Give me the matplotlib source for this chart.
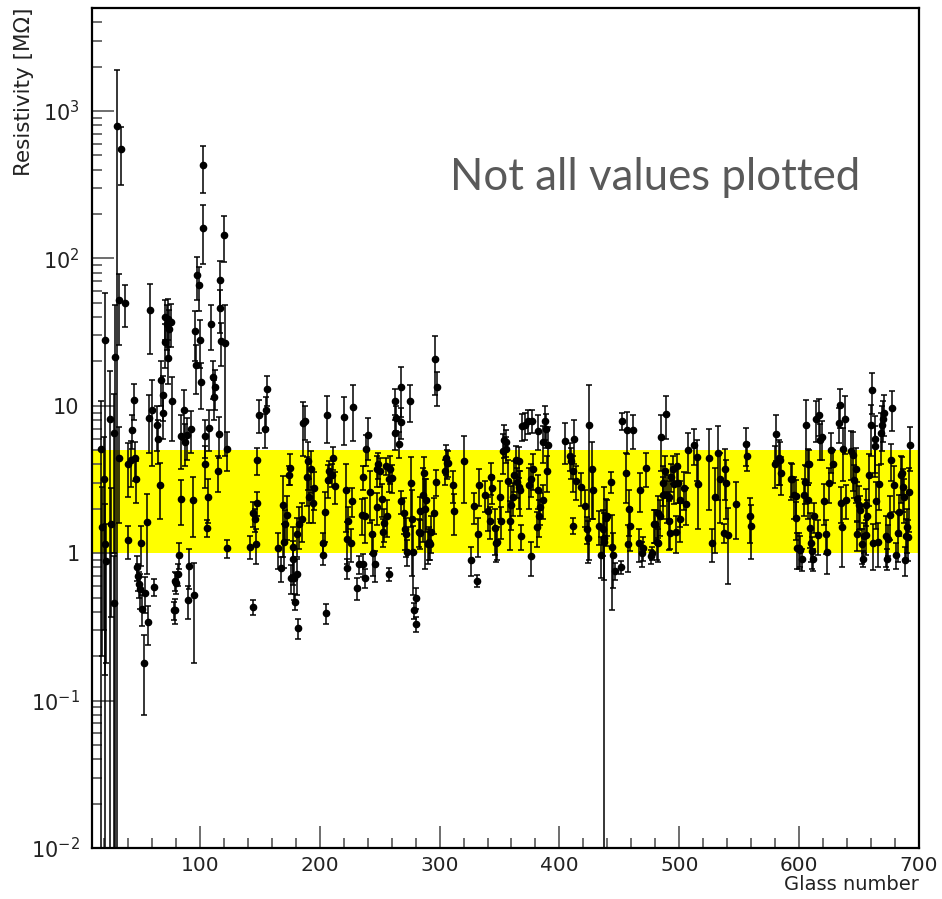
import numpy as np
import matplotlib.pyplot as plt
from matplotlib.ticker import FixedLocator, MultipleLocator, NullFormatter

# glass number, resistivity [MOhm], error, by region
glass_1 = [17.5, 18.0, 20.0, 20.8, 20.8, 21.5, 25.0, 26.0, 28.0, 28.0, 29.0, 31.0, 32.5, 32.5, 34.0,
           37.5, 40.0, 40.0, 42.5, 43.0, 45.0, 46.0, 47.0, 47.5, 48.0, 49.0, 50.0, 51.0, 51.7, 53.0,
           54.0, 56.0, 56.7, 57.5, 58.5, 60.0, 62.0, 64.0, 65.0, 67.0, 67.5, 69.0, 69.5, 71.0, 71.0,
           72.5, 73.0, 73.5, 74.0, 76.0, 77.0, 78.0, 79.0, 79.5, 80.0, 81.7, 82.5, 84.0, 84.0, 86.7,
           87.5, 89.0, 90.0, 91.0, 92.5, 94.0, 95.0, 96.0, 97.0, 97.5, 99.0, 100.0, 101.0, 102.5, 103.0,
           104.0, 104.5, 106.0, 107.0, 108.0, 109.0, 111.0, 111.5, 112.5, 115.0, 116.0, 117.0, 117.0, 118.0,
           120.0, 121.0, 122.5, 122.5]
res_1 = [5.1, 1.5, 3.2, 28, 1.15, 0.88, 8.2, 1.57, 6.5, 0.46, 21.5, 790, 52, 4.4, 550,
         50, 4.0, 1.22, 4.3, 6.9, 11, 4.4, 3.2, 0.80, 0.70, 0.62, 0.57, 1.17, 0.42, 0.18,
         0.54, 1.62, 0.34, 8.3, 44.6, 9.4, 0.59, 7.4, 6.0, 2.9, 15, 11.9, 9.0, 40, 27,
         36, 21, 39, 33, 37, 10.8, 0.41, 0.65, 0.41, 0.63, 0.72, 0.98, 6.2, 2.35, 9.4,
         5.7, 6.3, 0.48, 0.82, 7.0, 2.28, 0.52, 32, 19, 77, 66, 28, 14.5, 430, 162,
         4.05, 6.2, 1.48, 2.4, 7.1, 36, 15.7, 11.5, 13.4, 3.6, 6.4, 71, 46, 27.5,
         145, 26.6, 5.1, 1.08]
err_1 = [5.7, 1.3, 2.9, 30, 1.0, 0.7, 9.0, 1.2, 5.5, 0.5, 27, 1110, 26, 2.8, 235,
         16, 1.6, 0.3, 1.5, 1.8, 3, 1.3, 1.0, 0.15, 0.15, 0.12, 0.15, 0.35, 0.1, 0.1,
         0.15, 0.9, 0.1, 3.5, 22, 5.5, 0.08, 2.5, 2.0, 1.2, 5, 4, 3, 12, 9,
         12, 7, 14, 12, 12, 5, 0.06, 0.1, 0.08, 0.1, 0.12, 0.2, 2.5, 0.8, 3.5,
         1.8, 2.0, 0.12, 0.25, 2.2, 1.0, 0.34, 12, 7, 25, 22, 10, 5, 150, 70,
         1.3, 1.8, 0.2, 0.8, 2.2, 12, 4.5, 3.5, 4, 1.0, 2, 25, 15, 9,
         50, 22, 1.5, 0.15]

glass_2 = [144, 142, 144, 146, 147, 147.5, 148, 149, 154, 155, 156, 165, 168, 169, 170,
           171, 172.5, 174, 175, 176, 177.5, 178, 178.5, 179, 181, 182, 181, 183, 185, 186,
           188, 189, 190, 191, 192.5, 194, 195, 202.5, 203, 204, 205, 206, 207, 208, 210,
           211, 212.5, 220, 222, 222.5, 223, 224, 226, 226.7, 227.5, 231, 232.5, 235, 236, 236.5,
           237.5, 238, 239, 240, 241.7, 244, 244.5, 246, 247.5, 248]
res_2 = [0.43, 1.11, 1.86, 1.7, 1.15, 2.2, 4.3, 8.7, 7.0, 9.3, 13, 1.08, 0.79, 2.14, 1.19,
         1.57, 1.83, 3.4, 3.8, 0.68, 1.11, 0.91, 0.68, 0.47, 0.72, 0.31, 1.34, 1.57, 1.7, 7.6,
         7.9, 3.3, 4.2, 2.4, 3.75, 2.2, 2.75, 1.17, 0.98, 1.89, 0.39, 8.6, 3.16, 3.6, 3.4,
         4.45, 2.85, 8.4, 2.7, 1.24, 0.79, 1.65, 1.17, 2.25, 9.8, 0.58, 0.84, 1.83, 3.3, 0.84,
         0.68, 1.78, 5.1, 6.3, 2.6, 1.34, 1.0, 0.84, 2.05, 3.7]
err_2 = [0.05, 0.2, 0.35, 0.3, 0.3, 0.4, 0.9, 2.2, 1.8, 2.2, 3, 0.3, 0.15, 1.2, 0.4,
         0.4, 0.6, 0.5, 0.9, 0.15, 0.4, 0.3, 0.2, 0.06, 0.2, 0.05, 0.4, 0.5, 0.5, 3,
         2, 1.2, 1.5, 0.8, 1.2, 0.6, 0.8, 0.2, 0.15, 0.7, 0.06, 3, 0.8, 0.6, 0.6,
         0.8, 0.7, 3, 1.3, 0.4, 0.12, 0.4, 0.3, 0.5, 4, 0.1, 0.12, 0.5, 0.6, 0.15,
         0.1, 0.6, 1.2, 2, 1.0, 0.35, 0.3, 0.2, 0.5, 0.9]

glass_3 = [248.5, 250, 251.7, 252.5, 254, 255, 256, 257.5, 258, 259, 260.5, 262.5, 263, 264, 266,
           267.5, 268, 267.5, 270, 271, 272, 273, 275, 276, 276.7, 278, 278.5, 280, 280.5, 283,
           283.5, 284, 286, 286.7, 287.5, 289, 290, 291, 292, 293, 295, 296, 297.5, 296.7, 305,
           306, 304.5, 307, 311, 312, 320, 326, 329, 332, 331, 333, 338, 340, 341.7, 342.5,
           344, 346, 347, 348, 350, 351, 353, 354, 355, 355.5, 357.5, 359, 360, 361, 362.5, 364]
res_3 = [4.0, 3.6, 2.35, 1.4, 1.6, 3.9, 1.78, 3.2, 0.72, 3.75, 3.25, 6.5, 10.8, 8.3, 5.5,
         7.8, 13.4, 2.25, 1.86, 1.45, 1.34, 1.02, 10.8, 3.0, 1.7, 1.02, 0.41, 0.5, 0.33, 1.4,
         1.37, 1.92, 2.5, 3.5, 1.98, 2.3, 1.15, 1.2, 1.15, 1.4, 1.86, 20.8, 13.4, 3.06, 4.4,
         4.1, 3.6, 4.1, 2.9, 1.92, 4.2, 0.9, 2.08, 1.34, 0.65, 2.9, 2.5, 1.92, 1.65, 3.3,
         2.75, 1.48, 1.17, 1.2, 2.4, 1.65, 4.95, 5.9, 5.7, 5.1, 3.1, 1.65, 2.14, 2.4, 3.4, 4.3]
err_3 = [0.8, 0.8, 0.6, 0.3, 0.4, 0.5, 0.5, 0.6, 0.07, 0.8, 0.7, 1.5, 2.2, 1.6, 1.1,
         1.8, 5, 0.4, 0.5, 0.4, 0.4, 0.2, 3, 1.5, 1.0, 0.5, 0.05, 0.08, 0.04, 0.3,
         0.3, 0.5, 1.3, 1.0, 1.2, 0.9, 0.3, 0.3, 0.25, 0.4, 0.5, 9, 3.5, 0.6, 1.0,
         0.9, 0.7, 0.8, 0.7, 0.6, 2.0, 0.2, 0.5, 0.4, 0.06, 0.8, 0.6, 0.5, 0.4, 0.8,
         0.6, 0.5, 0.3, 0.3, 0.7, 0.4, 1.5, 1.5, 1.2, 1.0, 1.2, 0.6, 0.7, 0.6, 0.8, 1.0]

glass_4 = [365, 366, 366.5, 367.5, 368, 369, 371, 374, 377, 375, 376.5, 378, 376, 381, 382,
           382.5, 383, 384, 386, 386.7, 388, 389, 390, 390.5, 405, 409, 410, 411, 411.5, 412.5,
           414, 418, 421.7, 423, 424, 425, 427.5, 428, 433, 435, 436, 437, 437.5, 439, 440,
           443, 444, 445, 446, 451, 452.5, 456, 455.5, 457.5, 458, 459, 461, 466, 467.5, 469,
           470, 472, 476, 477, 479]
res_4 = [3.06, 2.8, 4.25, 2.7, 1.3, 7.3, 7.4, 7.9, 7.9, 2.9, 3.2, 3.7, 0.95, 1.5, 2.7,
         6.8, 1.78, 2.05, 2.3, 5.7, 7.9, 7.0, 3.6, 5.4, 5.8, 4.6, 4.2, 1.54, 3.6, 6.0,
         3.1, 2.8, 2.1, 1.45, 1.26, 7.4, 3.7, 2.7, 1.54, 0.98, 1.45, 1.26, 1.2, 1.72, 1.8,
         3.06, 1.11, 0.98, 0.76, 0.8, 7.9, 6.9, 3.5, 1.15, 2.0, 1.54, 6.9, 1.17, 2.7, 1.0,
         1.09, 3.8, 0.95, 1.0, 1.57]
err_4 = [0.7, 0.8, 1.0, 0.9, 0.25, 1.5, 1.5, 1.5, 1.4, 0.9, 0.8, 1.0, 0.25, 0.4, 0.7,
         1.8, 0.5, 0.5, 0.6, 1.6, 2, 1.8, 1.0, 1.8, 1.8, 1.0, 1.0, 0.2, 1.0, 2.0,
         0.8, 0.7, 0.6, 0.3, 0.4, 6.5, 2.0, 1.0, 0.4, 0.3, 0.5, 0.6, 1.6, 0.6, 0.5,
         0.5, 0.7, 0.4, 0.1, 0.08, 1.0, 2.2, 1.3, 0.4, 0.7, 0.5, 1.8, 0.3, 0.8, 0.2,
         0.2, 1.0, 0.1, 0.1, 0.4]

glass_5 = [480, 481, 482, 482.5, 484, 485, 486, 486.5, 488, 489, 490, 491, 491.7, 492.5, 493.5,
           495, 496, 497.5, 498, 499, 501, 500.5, 504, 506, 507, 512, 515, 516, 525, 530,
           527.5, 532.5, 534, 537, 538, 539, 541, 547.5, 556, 556.5, 559, 560, 580, 581, 583,
           584, 584.5, 593]
res_5 = [1.57, 1.2, 1.17, 1.86, 1.8, 6.1, 2.5, 3.0, 3.6, 8.8, 2.5, 2.4, 1.65, 1.37, 3.3,
         3.75, 2.95, 1.4, 3.9, 3.0, 2.3, 1.7, 2.75, 2.15, 5.0, 5.45, 4.5, 2.97, 4.45, 2.4,
         1.17, 4.8, 3.2, 1.37, 3.7, 3.0, 1.32, 2.15, 5.5, 4.6, 1.78, 1.52, 4.05, 6.4, 4.4,
         4.3, 3.5, 3.2]
err_5 = [0.4, 0.3, 0.3, 0.6, 0.5, 2.5, 0.8, 0.9, 1.0, 2.8, 0.9, 0.7, 0.6, 0.3, 0.7,
         0.8, 0.8, 0.4, 0.8, 0.8, 0.8, 0.5, 0.8, 0.6, 1.5, 1.5, 1.4, 1.5, 2.5, 1.4,
         0.3, 2.5, 1.6, 0.2, 1.4, 1.3, 0.7, 0.9, 1.6, 1.0, 0.6, 0.6, 1.3, 2.2, 1.5,
         1.4, 1.0, 0.9]

glass_6 = [594, 596, 597, 597.5, 598, 600, 601, 602.5, 604, 605, 606, 607, 607.5, 608, 609,
           610, 611, 611.5, 612.5, 614, 616, 616.5, 617.5, 619, 621, 622.5, 623, 625, 626.7, 628,
           633, 634, 635, 636, 636.5, 638, 639, 643, 645, 645.5, 647.5, 648.5, 648.5, 650, 651,
           652.5, 653, 654, 655.5, 656, 657, 658, 660, 661, 662, 663, 663.5, 664, 666, 667,
           668, 669, 670, 671, 672.5, 673, 674, 676, 677, 677.5, 679, 681, 682.5, 683.5, 685,
           686, 687, 687.5, 688, 689, 690, 691, 692, 692.5]
res_6 = [3.2, 2.5, 2.45, 1.72, 1.08, 1.08, 1.05, 0.91, 2.5, 3.06, 7.4, 4.0, 2.3, 4.0, 1.48,
         1.17, 1.03, 0.91, 1.78, 8.2, 1.32, 8.7, 5.9, 6.1, 2.25, 1.34, 1.02, 3.0, 5.0, 4.0,
         7.6, 10.1, 2.2, 1.5, 5.1, 8.2, 2.3, 4.95, 4.65, 3.16, 3.7, 2.35, 1.34, 2.14, 1.95,
         1.15, 0.92, 1.3, 1.32, 2.14, 1.8, 3.4, 7.4, 12.8, 1.17, 6.0, 5.3, 2.25, 1.2, 2.97,
         6.5, 7.4, 8.2, 9.0, 1.3, 0.92, 1.25, 1.83, 4.3, 9.7, 2.9, 0.98, 1.37, 1.9, 3.4,
         3.5, 2.8, 2.4, 0.9, 1.3, 1.5, 1.28, 2.6, 5.4]
err_6 = [0.8, 0.8, 0.7, 0.5, 0.3, 0.3, 0.25, 0.15, 0.7, 0.9, 3.5, 1.1, 0.6, 1.0, 0.4,
         0.3, 0.25, 0.15, 0.4, 2.5, 0.35, 2.5, 1.6, 1.8, 0.7, 0.35, 0.3, 0.8, 1.5, 1.0,
         2.0, 3.0, 0.6, 0.7, 2.0, 3.5, 0.6, 1.8, 2.0, 0.8, 1.5, 0.7, 0.3, 0.7, 0.5,
         0.3, 0.12, 0.3, 0.35, 0.6, 0.5, 1.3, 2.8, 4.0, 0.4, 2.5, 2.0, 0.8, 0.4, 1.0,
         2.5, 2.5, 2.5, 2.8, 0.5, 0.15, 0.3, 0.6, 1.2, 3.0, 1.0, 0.2, 0.5, 0.6, 1.2,
         1.0, 0.9, 0.8, 0.2, 0.4, 0.5, 0.4, 1.2, 1.8]

band_low, band_high = 1, 5
y_ticks = [1e-2, 1e-1, 1, 10, 1e2, 1e3]
y_ticklabels = ['$10^{-2}$', '$10^{-1}$', '1', '10', '$10^{2}$', '$10^{3}$']

glass = glass_1 + glass_2 + glass_3 + glass_4 + glass_5 + glass_6
res = res_1 + res_2 + res_3 + res_4 + res_5 + res_6
err = err_1 + err_2 + err_3 + err_4 + err_5 + err_6

fig = plt.figure(figsize=(9.42, 8.99), dpi=100)
ax = fig.add_axes([92/942, 1-848/899, (919-92)/942, (848-8)/899])

ax.set_yscale('log', nonpositive='clip')
ax.set_xlim(10, 700)
ax.set_ylim(1e-2, 5000)

ax.axhspan(band_low, band_high, color='#ffff00', lw=0, zorder=0)
ax.errorbar(glass, res, yerr=err, fmt='o', color='black', ms=4.5,
            elinewidth=1.1, capsize=2.2, capthick=1.1, zorder=3)

ax.yaxis.set_major_locator(FixedLocator(y_ticks))
ax.set_yticklabels(y_ticklabels)
ax.yaxis.set_minor_locator(FixedLocator(
    [m * 10.0**e for e in range(-2, 4) for m in range(2, 10)]))
ax.yaxis.set_minor_formatter(NullFormatter())
ax.xaxis.set_major_locator(MultipleLocator(100))
ax.xaxis.set_minor_locator(MultipleLocator(20))

ax.tick_params(which='both', direction='in', top=False, right=False,
               color='#555555', width=1.2, labelsize=15, labelcolor='#222222')
ax.tick_params(axis='x', which='major', length=16, pad=6, labelsize=14.5)
ax.tick_params(axis='y', which='major', length=16, pad=9)
ax.tick_params(which='minor', length=7)
for s in ax.spines.values():
    s.set_linewidth(1.6)

fig.text(24/942, 1-8/899, 'Resistivity [MΩ]', rotation=90, ha='center', va='top',
         fontsize=15.5, color='#222222')
fig.text(919/942, 1-885/899, 'Glass number', ha='right', va='center',
         fontsize=14, color='#222222')
fig.text(450/942, 1-178/899, 'Not all values plotted', ha='left', va='center',
         fontsize=31.5, color='#595959', family=['Lato', 'DejaVu Sans'])

fig.savefig('out.png', dpi=100)
